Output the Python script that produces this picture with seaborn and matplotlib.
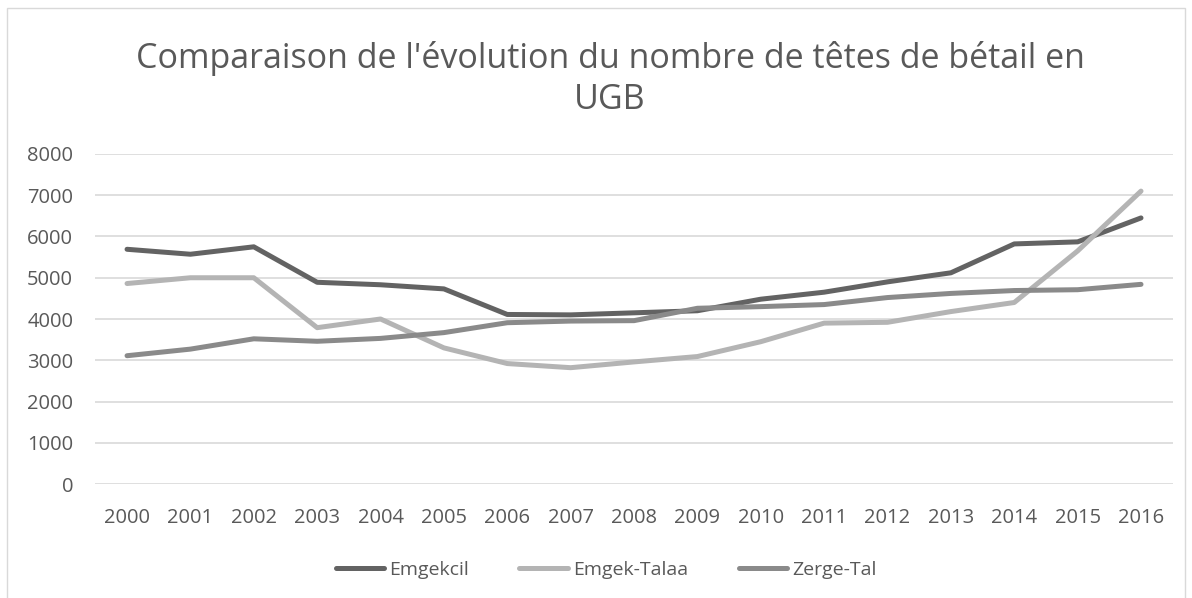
import pandas as pd
import numpy as np
import matplotlib.pyplot as plt
import seaborn as sns
from matplotlib.patches import Rectangle

years = [str(y) for y in range(2000, 2017)]
emgekcil = [5690, 5570, 5750, 4890, 4830, 4730, 4110, 4100, 4150, 4200, 4480, 4650, 4900, 5120, 5820, 5870, 6450]
emgek_talaa = [4860, 5000, 5000, 3790, 4000, 3300, 2920, 2820, 2960, 3090, 3450, 3900, 3920, 4180, 4400, 5650, 7100]
zerge_tal = [3110, 3270, 3520, 3460, 3530, 3670, 3910, 3950, 3960, 4260, 4300, 4350, 4520, 4620, 4690, 4710, 4840]
series_names = ['Emgekcil', 'Emgek-Talaa', 'Zerge-Tal']
colors = ['#636363', '#b4b4b4', '#8a8a8a']

# long format for seaborn
df = pd.DataFrame({
    'annee': years * 3,
    'valeur': emgekcil + emgek_talaa + zerge_tal,
    'serie': [n for n in series_names for _ in years],
})

sns.set_style('white')
plt.rcParams['font.family'] = ['Open Sans', 'DejaVu Sans']

fig = plt.figure(figsize=(11.92, 5.98), dpi=100)
ax = fig.add_axes([0.0800, 0.1906, 0.9038, 0.5519])

sns.lineplot(data=df, x='annee', y='valeur', hue='serie', palette=colors,
             linewidth=3.6, ax=ax, sort=False, legend=True)
for line in ax.get_lines():
    line.set_solid_capstyle('round')
    line.set_solid_joinstyle('round')

ax.set_xlim(-0.5, 16.5)
ax.set_ylim(0, 8000)
ax.set_yticks(np.arange(0, 8001, 1000))
ax.grid(axis='y', color='#d9d9d9', linewidth=1.2)
ax.set_axisbelow(True)
for s in ax.spines.values():
    s.set_visible(False)
ax.tick_params(axis='both', length=0, labelsize=14.5, labelcolor='#595959')
ax.tick_params(axis='x', pad=17)
ax.tick_params(axis='y', pad=16)
ax.set_xlabel('')
ax.set_ylabel('')

handles, labels = ax.get_legend_handles_labels()
ax.legend(handles, labels, loc='center', ncol=3, frameon=False, fontsize=14,
          labelcolor='#595959', handlelength=2.5, handletextpad=0.25, columnspacing=2.6)
leg = ax.get_legend()
leg.set_bbox_to_anchor((606 / 1192, 1 - 570 / 598), transform=fig.transFigure)

fig.text(610 / 1192, 1 - 58 / 598, "Comparaison de l'évolution du nombre de têtes de bétail en",
         ha='center', va='center', fontsize=24.5, color='#595959')
fig.text(610 / 1192, 1 - 100 / 598, "UGB",
         ha='center', va='center', fontsize=24.5, color='#595959')

fig.patches.append(Rectangle((7 / 1192, -0.05), 1178 / 1192, 1.05 - 8 / 598,
                             transform=fig.transFigure, fill=False,
                             edgecolor='#d9d9d9', linewidth=1.0))

fig.savefig('out.png', dpi=100)
